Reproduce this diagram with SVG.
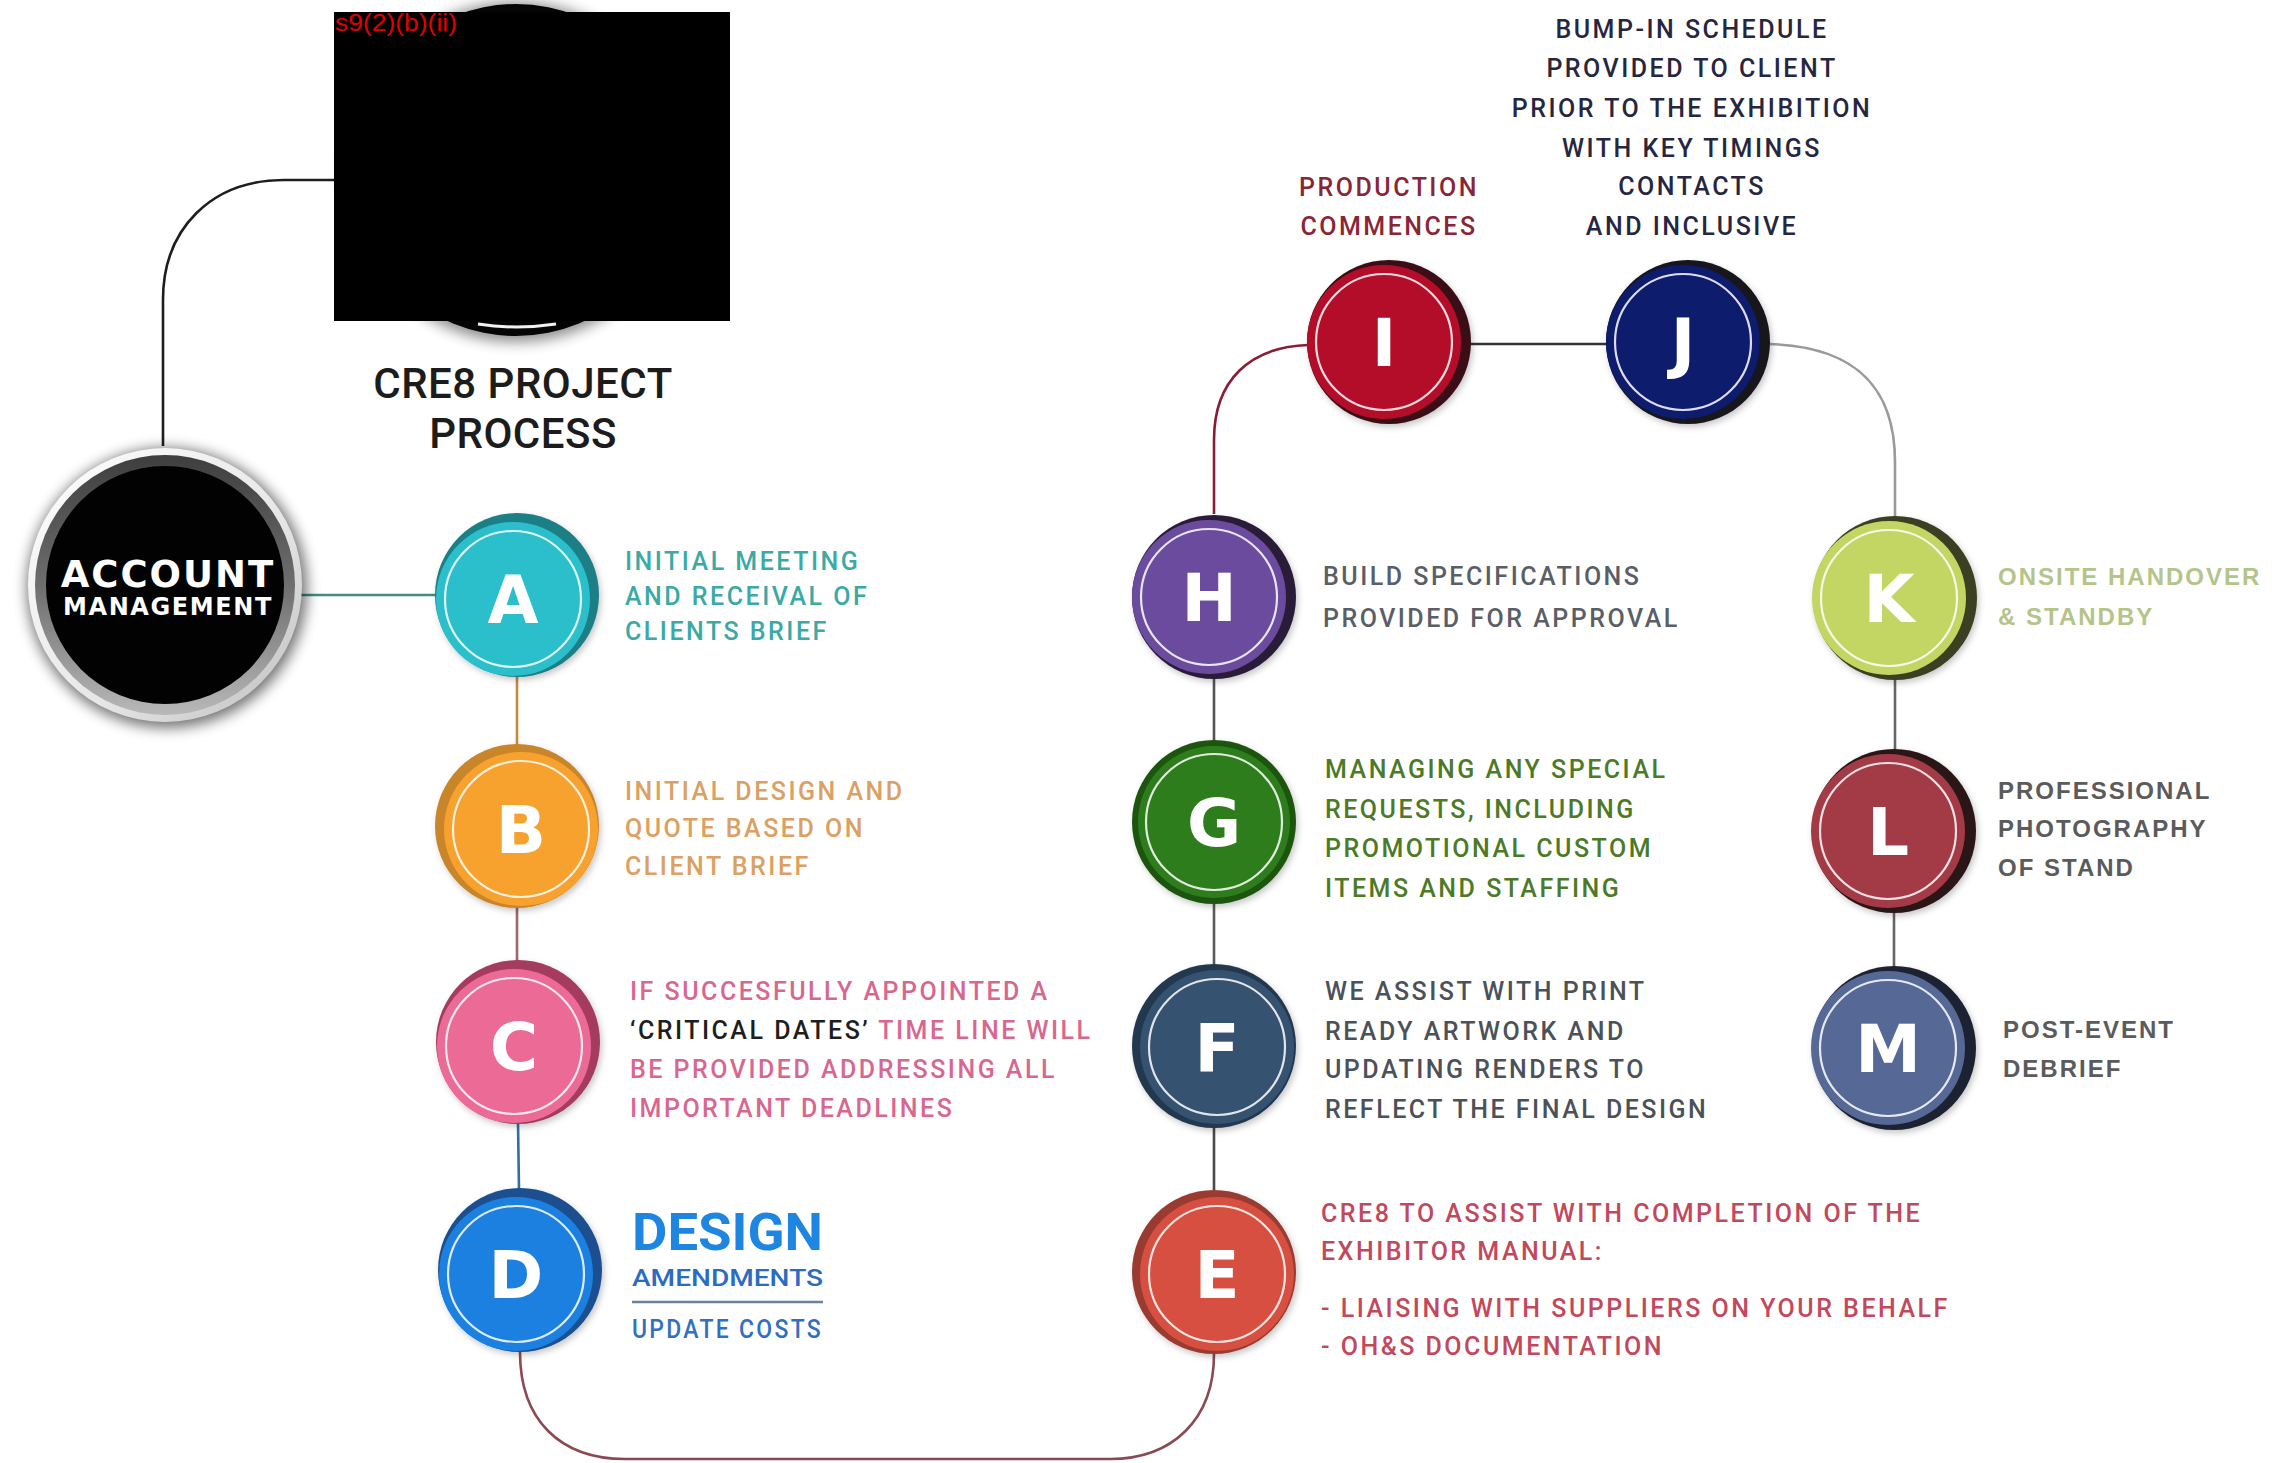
<svg xmlns="http://www.w3.org/2000/svg" width="2285" height="1463" viewBox="0 0 2285 1463">
  <defs>
    <filter id="soft" x="-20%" y="-20%" width="140%" height="140%">
      <feDropShadow dx="2" dy="3" stdDeviation="3" flood-color="#000" flood-opacity="0.22"/>
    </filter>
    <filter id="halo" x="-30%" y="-30%" width="160%" height="160%">
      <feGaussianBlur stdDeviation="7"/>
    </filter>
    <linearGradient id="ringGrey" x1="0" y1="0" x2="0" y2="1">
      <stop offset="0" stop-color="#3e3e3e"/>
      <stop offset="0.5" stop-color="#6e6e6e"/>
      <stop offset="1" stop-color="#b8b8b8"/>
    </linearGradient>
    <linearGradient id="rimSilver" x1="0" y1="0" x2="1" y2="1">
      <stop offset="0" stop-color="#ffffff"/>
      <stop offset="0.6" stop-color="#e6e6e6"/>
      <stop offset="1" stop-color="#bdbdbd"/>
    </linearGradient>
  </defs>
  <style>
    .bg { fill: #ffffff; }
    .link { fill: none; stroke-width: 2.6; }
    .ring { fill: none; stroke: #ffffff; stroke-opacity: 0.85; stroke-width: 2.2; }
    .letter { font-family: "DejaVu Sans", "Liberation Sans", sans-serif; font-weight: 700; font-size: 66px; fill: #ffffff; text-anchor: middle; }
    .txt { font-family: Roboto, "Liberation Sans", sans-serif; font-weight: 500; font-size: 25px; letter-spacing: 2.5px; }
    .wide { font-family: "Liberation Sans", Roboto, sans-serif; font-weight: 700; font-size: 24px; letter-spacing: 2px; }
    .mid { text-anchor: middle; }
    .title { font-family: Roboto, "Liberation Sans", sans-serif; font-weight: 500; font-size: 42px; fill: #1c1c1c; text-anchor: middle; letter-spacing: 0.5px; }
    .acct { font-family: "DejaVu Sans", "Liberation Sans", sans-serif; font-weight: 700; fill: #ffffff; text-anchor: middle; }
  </style>

  <rect class="bg" x="0" y="0" width="2285" height="1463"/>

  <!-- connectors -->
  <g id="connectors">
    <path class="link" stroke="#1e1e1e" d="M163,446 L163,300 C163,228 212,180 284,180 L340,180"/>
    <path class="link" stroke="#3f8c84" d="M300,595 L436,595"/>
    <path class="link" stroke="#c7883c" d="M517,676 L517,746"/>
    <path class="link" stroke="#a0646c" d="M517,906 L517,962"/>
    <path class="link" stroke="#2f6fa8" d="M518,1122 L519,1190"/>
    <path class="link" stroke="#8b4a52" d="M520,1352 C520,1420 560,1459 625,1459 L1110,1459 C1172,1459 1214,1420 1214,1354"/>
    <path class="link" stroke="#4a4a4a" d="M1214,1128 L1214,1192"/>
    <path class="link" stroke="#5a5a5a" d="M1214,902 L1214,966"/>
    <path class="link" stroke="#555555" d="M1214,676 L1214,742"/>
    <path class="link" stroke="#8b1c34" d="M1214,514 L1214,440 C1214,380 1250,347 1308,345"/>
    <path class="link" stroke="#333333" d="M1470,344 L1608,344"/>
    <path class="link" stroke="#9a9a9a" d="M1768,344 C1850,346 1895,382 1895,462 L1895,518"/>
    <path class="link" stroke="#666666" d="M1895,678 L1895,750"/>
    <path class="link" stroke="#666666" d="M1894,912 L1894,968"/>
  </g>

  <!-- top hub (obscured by a solid block) -->
  <g id="node-top">
    <circle cx="516" cy="172" r="170" fill="#000" opacity="0.45" filter="url(#halo)"/>
    <circle cx="516" cy="170" r="166" fill="#050505"/>
    <path d="M478,324 Q516,330 556,324" fill="none" stroke="#f2f2f2" stroke-width="3"/>
    <rect x="334" y="12" width="396" height="309" fill="#000000"/>
    <text x="335" y="31" font-family="Liberation Sans, Arial, sans-serif" font-size="23" fill="#e00000" textLength="122" lengthAdjust="spacingAndGlyphs">s9(2)(b)(ii)</text>
  </g>

  <!-- title -->
  <g id="title">
    <text class="title" x="523" y="398">CRE8 PROJECT</text>
    <text class="title" x="523" y="448">PROCESS</text>
  </g>

  <!-- account management hub -->
  <g id="node-account">
    <circle cx="167" cy="588" r="140" fill="#000" opacity="0.55" filter="url(#halo)"/>
    <circle cx="165" cy="585" r="137" fill="url(#rimSilver)"/>
    <circle cx="165" cy="585" r="130" fill="url(#ringGrey)"/>
    <circle cx="165" cy="585" r="119" fill="#020202"/>
    <text class="acct" x="168" y="587" font-size="37" letter-spacing="2">ACCOUNT</text>
    <text class="acct" x="168" y="615" font-size="24" letter-spacing="1.6">MANAGEMENT</text>
  </g>

  <!-- A -->
  <g id="node-a" filter="url(#soft)">
    <circle cx="517" cy="595" r="82" fill="#1f7f86"/>
    <circle cx="513" cy="599" r="77" fill="#2bbfcb"/>
    <circle cx="513" cy="599" r="68" class="ring"/>
    <text class="letter" x="513" y="623">A</text>
  </g>
  <g id="text-a" class="txt" fill="#3ba9a6">
    <text x="625" y="570">INITIAL MEETING</text>
    <text x="625" y="605">AND RECEIVAL OF</text>
    <text x="625" y="640">CLIENTS BRIEF</text>
  </g>

  <!-- B -->
  <g id="node-b" filter="url(#soft)">
    <circle cx="517" cy="826" r="82" fill="#c9852a"/>
    <circle cx="521" cy="829" r="77" fill="#f7a12e"/>
    <circle cx="521" cy="829" r="68" class="ring"/>
    <text class="letter" x="521" y="853">B</text>
  </g>
  <g id="text-b" class="txt" fill="#dba062">
    <text x="625" y="800">INITIAL DESIGN AND</text>
    <text x="625" y="837">QUOTE BASED ON</text>
    <text x="625" y="875">CLIENT BRIEF</text>
  </g>

  <!-- C -->
  <g id="node-c" filter="url(#soft)">
    <circle cx="518" cy="1042" r="82" fill="#a63a60"/>
    <circle cx="514" cy="1046" r="77" fill="#ec6b96"/>
    <circle cx="514" cy="1046" r="68" class="ring"/>
    <text class="letter" x="514" y="1070">C</text>
  </g>
  <g id="text-c" class="txt" fill="#d8678f">
    <text x="630" y="1000">IF SUCCESFULLY APPOINTED A</text>
    <text x="630" y="1039"><tspan fill="#1e1e1e">&#8216;CRITICAL DATES&#8217;</tspan> TIME LINE WILL</text>
    <text x="630" y="1078">BE PROVIDED ADDRESSING ALL</text>
    <text x="630" y="1117">IMPORTANT DEADLINES</text>
  </g>

  <!-- D -->
  <g id="node-d" filter="url(#soft)">
    <circle cx="520" cy="1270" r="82" fill="#1b4f90"/>
    <circle cx="516" cy="1274" r="77" fill="#1f80e0"/>
    <circle cx="516" cy="1274" r="68" class="ring"/>
    <text class="letter" x="516" y="1298">D</text>
  </g>
  <g id="text-d">
    <text x="632" y="1250" font-family="Roboto, Liberation Sans, sans-serif" font-weight="700" font-size="52" fill="#1e86e0" textLength="191" lengthAdjust="spacingAndGlyphs">DESIGN</text>
    <text x="632" y="1286" font-family="Roboto, Liberation Sans, sans-serif" font-weight="500" font-size="24" fill="#2a6cc0" textLength="191" lengthAdjust="spacingAndGlyphs">AMENDMENTS</text>
    <line x1="632" y1="1302" x2="823" y2="1302" stroke="#6f7f9e" stroke-width="2.5"/>
    <text class="txt" x="632" y="1338" fill="#3070c0" textLength="191" lengthAdjust="spacingAndGlyphs">UPDATE COSTS</text>
  </g>

  <!-- E -->
  <g id="node-e" filter="url(#soft)">
    <circle cx="1214" cy="1272" r="82" fill="#9a3a30"/>
    <circle cx="1217" cy="1274" r="77" fill="#d6503f"/>
    <circle cx="1217" cy="1274" r="68" class="ring" stroke="#f3e2c8"/>
    <text class="letter" x="1217" y="1298">E</text>
  </g>
  <g id="text-e" class="txt" fill="#c2485c">
    <text x="1321" y="1222">CRE8 TO ASSIST WITH COMPLETION OF THE</text>
    <text x="1321" y="1260">EXHIBITOR MANUAL:</text>
    <text x="1321" y="1317">- LIAISING WITH SUPPLIERS ON YOUR BEHALF</text>
    <text x="1321" y="1355">- OH&amp;S DOCUMENTATION</text>
  </g>

  <!-- F -->
  <g id="node-f" filter="url(#soft)">
    <circle cx="1214" cy="1046" r="82" fill="#233850"/>
    <circle cx="1217" cy="1047" r="77" fill="#36526f"/>
    <circle cx="1217" cy="1047" r="68" class="ring"/>
    <text class="letter" x="1217" y="1071">F</text>
  </g>
  <g id="text-f" class="txt" fill="#4b5159">
    <text x="1325" y="1000">WE ASSIST WITH PRINT</text>
    <text x="1325" y="1040">READY ARTWORK AND</text>
    <text x="1325" y="1078">UPDATING RENDERS TO</text>
    <text x="1325" y="1118">REFLECT THE FINAL DESIGN</text>
  </g>

  <!-- G -->
  <g id="node-g" filter="url(#soft)">
    <circle cx="1214" cy="822" r="82" fill="#1f5411"/>
    <circle cx="1214" cy="822" r="76" fill="#2f7d1c"/>
    <circle cx="1214" cy="822" r="68" class="ring" stroke="#c8f0b0"/>
    <text class="letter" x="1214" y="846">G</text>
  </g>
  <g id="text-g" class="txt" fill="#4c7a26">
    <text x="1325" y="778">MANAGING ANY SPECIAL</text>
    <text x="1325" y="818">REQUESTS, INCLUDING</text>
    <text x="1325" y="857">PROMOTIONAL CUSTOM</text>
    <text x="1325" y="897">ITEMS AND STAFFING</text>
  </g>

  <!-- H -->
  <g id="node-h" filter="url(#soft)">
    <circle cx="1214" cy="597" r="82" fill="#2a1f38"/>
    <circle cx="1209" cy="597" r="77" fill="#6a4c9e"/>
    <circle cx="1209" cy="597" r="68" class="ring"/>
    <text class="letter" x="1209" y="621">H</text>
  </g>
  <g id="text-h" class="txt" fill="#5a5e66">
    <text x="1323" y="585">BUILD SPECIFICATIONS</text>
    <text x="1323" y="627">PROVIDED FOR APPROVAL</text>
  </g>

  <!-- I -->
  <g id="node-i" filter="url(#soft)">
    <circle cx="1389" cy="342" r="82" fill="#3a1015"/>
    <circle cx="1384" cy="342" r="77" fill="#b4102a"/>
    <circle cx="1384" cy="342" r="68" class="ring" stroke="#f3d8c8"/>
    <text class="letter" x="1384" y="366">I</text>
  </g>
  <g id="text-i" class="txt mid" fill="#8a2535">
    <text x="1389" y="196">PRODUCTION</text>
    <text x="1389" y="235">COMMENCES</text>
  </g>

  <!-- J -->
  <g id="node-j" filter="url(#soft)">
    <circle cx="1688" cy="342" r="82" fill="#15151f"/>
    <circle cx="1683" cy="342" r="77" fill="#111b6c"/>
    <circle cx="1683" cy="342" r="68" class="ring"/>
    <text class="letter" x="1683" y="366">J</text>
  </g>
  <g id="text-j" class="txt mid" fill="#262640">
    <text x="1692" y="38">BUMP-IN SCHEDULE</text>
    <text x="1692" y="77">PROVIDED TO CLIENT</text>
    <text x="1692" y="117">PRIOR TO THE EXHIBITION</text>
    <text x="1692" y="157">WITH KEY TIMINGS</text>
    <text x="1692" y="195">CONTACTS</text>
    <text x="1692" y="235">AND INCLUSIVE</text>
  </g>

  <!-- K -->
  <g id="node-k" filter="url(#soft)">
    <circle cx="1895" cy="598" r="82" fill="#3a4020"/>
    <circle cx="1889" cy="598" r="77" fill="#c3d562"/>
    <circle cx="1889" cy="598" r="68" class="ring"/>
    <text class="letter" x="1889" y="622">K</text>
  </g>
  <g id="text-k" class="wide" fill="#b4c48a">
    <text x="1998" y="585">ONSITE HANDOVER</text>
    <text x="1998" y="625">&amp; STANDBY</text>
  </g>

  <!-- L -->
  <g id="node-l" filter="url(#soft)">
    <circle cx="1894" cy="831" r="82" fill="#2a1518"/>
    <circle cx="1888" cy="831" r="77" fill="#a33a46"/>
    <circle cx="1888" cy="831" r="68" class="ring" stroke="#f6d6d6"/>
    <text class="letter" x="1888" y="855">L</text>
  </g>
  <g id="text-l" class="wide" fill="#5b5b5b">
    <text x="1998" y="799">PROFESSIONAL</text>
    <text x="1998" y="837">PHOTOGRAPHY</text>
    <text x="1998" y="876">OF STAND</text>
  </g>

  <!-- M -->
  <g id="node-m" filter="url(#soft)">
    <circle cx="1894" cy="1048" r="82" fill="#1f2430"/>
    <circle cx="1888" cy="1048" r="77" fill="#566795"/>
    <circle cx="1888" cy="1048" r="68" class="ring"/>
    <text class="letter" x="1888" y="1072">M</text>
  </g>
  <g id="text-m" class="wide" fill="#5b5b5b">
    <text x="2003" y="1038">POST-EVENT</text>
    <text x="2003" y="1077">DEBRIEF</text>
  </g>
</svg>
